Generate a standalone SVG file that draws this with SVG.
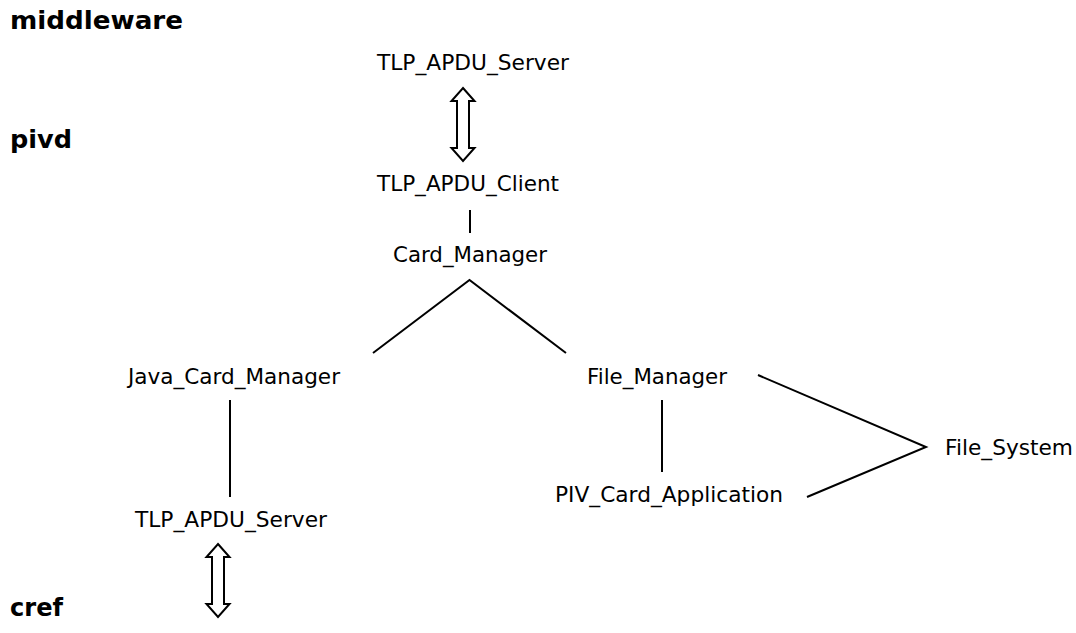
<svg xmlns="http://www.w3.org/2000/svg" width="1076" height="633" viewBox="0 0 1076 633">
<style>
.t{font-family:"DejaVu Sans",Verdana,sans-serif;font-size:21px;fill:#000}
.h{font-family:"DejaVu Sans",Verdana,sans-serif;font-size:24px;font-weight:bold;fill:#000}
.c{stroke:#000;stroke-width:2;fill:none}
.a{stroke:#000;stroke-width:2;fill:#fff;stroke-linejoin:miter}
</style>
<defs>
<path id="dbl" d="M0,0 L11.5,13 L6,13 L6,60 L11.5,60 L0,73 L-11.5,60 L-6,60 L-6,13 L-11.5,13 Z"/>
</defs>
<rect width="1076" height="633" fill="#fff"/>
<g id="layers">
<text class="h" x="10" y="29" textLength="173" lengthAdjust="spacingAndGlyphs">middleware</text>
<text class="h" x="10" y="148" textLength="62" lengthAdjust="spacingAndGlyphs">pivd</text>
<text class="h" x="10" y="616" textLength="53" lengthAdjust="spacingAndGlyphs">cref</text>
</g>
<g id="connectors">
<use href="#dbl" class="a" x="463" y="88"/>
<line class="c" x1="470" y1="210" x2="470" y2="233"/>
<polyline class="c" points="373,353 469.5,280 566,353"/>
<line class="c" x1="230" y1="400" x2="230" y2="497"/>
<line class="c" x1="662" y1="400" x2="662" y2="472"/>
<polyline class="c" points="758,375 926,447 807,497"/>
<use href="#dbl" class="a" x="218" y="544"/>
</g>
<g id="n-mw-server"><text class="t" x="377" y="70" textLength="192" lengthAdjust="spacingAndGlyphs">TLP_APDU_Server</text></g>
<g id="n-client"><text class="t" x="377" y="191" textLength="182" lengthAdjust="spacingAndGlyphs">TLP_APDU_Client</text></g>
<g id="n-card-manager"><text class="t" x="393" y="262" textLength="154" lengthAdjust="spacingAndGlyphs">Card_Manager</text></g>
<g id="n-java-card-manager"><text class="t" x="128" y="384" textLength="212" lengthAdjust="spacingAndGlyphs">Java_Card_Manager</text></g>
<g id="n-file-manager"><text class="t" x="587" y="384" textLength="140" lengthAdjust="spacingAndGlyphs">File_Manager</text></g>
<g id="n-piv"><text class="t" x="555" y="502" textLength="228" lengthAdjust="spacingAndGlyphs">PIV_Card_Application</text></g>
<g id="n-file-system"><text class="t" x="945" y="455" textLength="128" lengthAdjust="spacingAndGlyphs">File_System</text></g>
<g id="n-cref-server"><text class="t" x="135" y="527" textLength="192" lengthAdjust="spacingAndGlyphs">TLP_APDU_Server</text></g>
</svg>
